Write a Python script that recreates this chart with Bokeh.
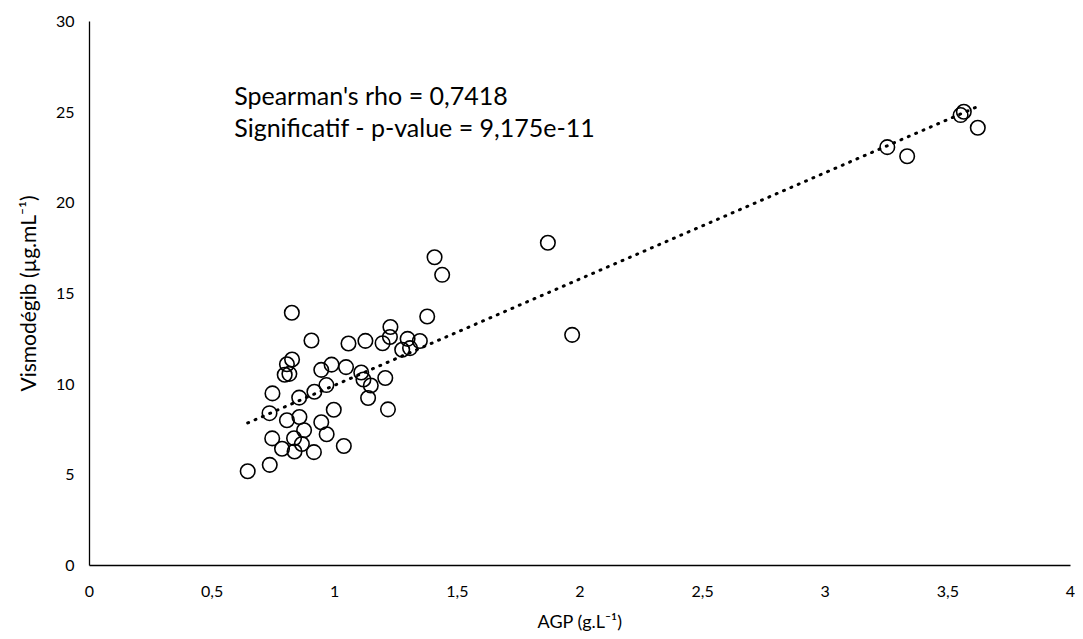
import numpy as np
from bokeh.plotting import figure
from bokeh.models import ColumnDataSource, Label, FixedTicker, CustomJSTickFormatter, Range1d
from bokeh.embed import file_html
from bokeh.resources import INLINE

# AGP (g/L)
agp = [0.825, 0.905, 1.056, 1.125, 1.227, 1.377, 1.225, 1.195, 1.297, 1.347,
       1.275, 1.307, 0.826, 0.805, 0.796, 0.815, 0.945, 0.987, 1.046, 1.108,
       1.117, 1.147, 1.206, 1.136, 1.217, 0.746, 0.855, 0.917, 0.966, 0.734,
       0.805, 0.856, 0.996, 0.945, 0.745, 0.834, 0.875, 0.967, 0.785, 0.836,
       0.866, 0.915, 1.037, 0.735, 0.645, 1.407, 1.438, 1.869, 1.968, 3.253,
       3.334, 3.552, 3.565, 3.622]
# Vismodegib (ug/mL)
vismo = [13.94, 12.41, 12.24, 12.39, 13.15, 13.73, 12.60, 12.26, 12.50, 12.38,
         11.90, 11.99, 11.36, 11.10, 10.52, 10.57, 10.79, 11.08, 10.94, 10.64,
         10.26, 9.93, 10.34, 9.24, 8.61, 9.49, 9.26, 9.58, 9.95, 8.40,
         8.01, 8.19, 8.59, 7.90, 7.01, 7.02, 7.46, 7.24, 6.44, 6.29,
         6.70, 6.25, 6.59, 5.55, 5.20, 17.00, 16.03, 17.80, 12.72, 23.07,
         22.57, 24.84, 25.02, 24.14]

x_ticks = [0, 0.5, 1, 1.5, 2, 2.5, 3, 3.5, 4]
y_ticks = [0, 5, 10, 15, 20, 25, 30]
annot = ["Spearman's rho = 0,7418", "Significatif - p-value = 9,175e-11"]

p = figure(width=1075, height=634, output_backend="svg", toolbar_location=None,
           x_range=Range1d(0, 4), y_range=Range1d(0, 30),
           min_border_left=89, min_border_right=5, min_border_top=21, min_border_bottom=66)
p.outline_line_color = None
p.grid.grid_line_color = None
p.background_fill_color = "white"

fmt = CustomJSTickFormatter(code="return tick.toString().replace('.', ',');")
for ax, ticks in ((p.xaxis, x_ticks), (p.yaxis, y_ticks)):
    ax.ticker = FixedTicker(ticks=ticks)
    ax.formatter = fmt
    ax.major_tick_line_color = None
    ax.minor_tick_line_color = None
    ax.axis_line_color = "black"
    ax.axis_line_width = 1.3
    ax.major_label_text_font = "Lato"
    ax.major_label_text_font_size = "16px"
    ax.major_label_text_color = "black"
    ax.axis_label_text_font = "Lato"
    ax.axis_label_text_font_style = "normal"
    ax.axis_label_text_color = "black"

p.xaxis.major_label_standoff = 14
p.yaxis.major_label_standoff = 9
p.xaxis.axis_label = "AGP (g.L\u207b\u00b9)"
p.xaxis.axis_label_text_font_size = "18px"
p.xaxis.axis_label_standoff = 10
p.yaxis.axis_label = "Vismodégib (µg.mL\u207b\u00b9)"
p.yaxis.axis_label_text_font_size = "21px"
p.yaxis.axis_label_standoff = 13

# linear trendline computed from the data
xa = np.array(agp)
ya = np.array(vismo)
slope, intercept = np.polyfit(xa, ya, 1)
tx = [xa.min(), xa.max()]
ty = [slope * v + intercept for v in tx]
p.line(tx, ty, line_color="black", line_width=3, line_dash="1 7", line_cap="round")

src = ColumnDataSource(dict(x=agp, y=vismo))
p.scatter("x", "y", source=src, size=14.5, marker="circle", fill_color=None,
          line_color="black", line_width=1.6)

for i, t in enumerate(annot):
    p.add_layout(Label(x=0.59, y=25.95 - i * 1.77, text=t, text_font="Lato",
                       text_font_size="25px", text_color="black",
                       text_baseline="middle"))

open("out.html", "w").write(file_html(p, INLINE))
